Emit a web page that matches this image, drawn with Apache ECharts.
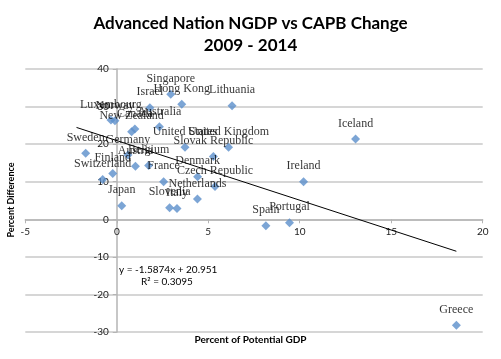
<!DOCTYPE html>
<html>
<head>
<meta charset="utf-8">
<script src="https://cdn.jsdelivr.net/npm/echarts@6/dist/echarts.min.js"></script>
<style>
html,body{margin:0;padding:0;background:#fff;}
#c{width:501px;height:359px;}
</style>
</head>
<body>
<div id="c"></div>
<script>
const countries = ['Singapore','Hong Kong','Israel','Lithuania','Luxembourg','Norway','Canada','New Zealand','Australia','United States','United Kingdom','Slovak Republic','Sweden','Germany','Austria','Belgium','Finland','Switzerland','France','Denmark','Czech Republic','Netherlands','Japan','Slovenia','Italy','Ireland','Iceland','Spain','Portugal','Greece'];
const potentialGdp = [2.95,3.55,1.81,6.30,-0.32,-0.10,0.99,0.81,2.33,3.73,6.11,5.28,-1.70,0.61,1.02,1.74,-0.22,-0.77,2.56,4.42,5.37,4.41,0.27,2.89,3.29,10.21,13.05,8.15,9.44,18.56];
const percentDiff = [33.3,30.6,29.7,30.2,26.4,26.2,24.0,23.3,24.6,19.2,19.2,16.7,17.6,17.1,14.1,14.3,12.2,10.6,10.0,11.3,8.7,5.4,3.6,3.1,2.9,10.0,21.4,-1.7,-0.9,-28.2];
const trendSlope = -1.5874;
const trendIntercept = 20.951;
const trendRange = [-2.2, 18.56];
const xTickRange = [-5, 20, 5];
const yTickRange = [-30, 40, 10];
const titleLines = ['Advanced Nation NGDP vs CAPB Change', '2009 - 2014'];
const xAxisName = 'Percent of Potential GDP';
const yAxisName = 'Percent Difference';
const equationText = ['y = -1.5874x + 20.951', 'R² = 0.3095'];

const points = countries.map((c, i) => ({ name: c, value: [potentialGdp[i], percentDiff[i]] }));
const trendData = trendRange.map(x => [x, trendSlope * x + trendIntercept]);

const W = 501, H = 359;
const G = { left: 25.3, right: 18.3, top: 69, bottom: 27 };
const sans = 'Lato';
const axisColor = '#b4b4b4';
const labelStyle = { fontFamily: sans, fontSize: 10, color: '#222' };

const chart = echarts.init(document.getElementById('c'), null, { renderer: 'canvas' });
chart.setOption({
  animation: false,
  backgroundColor: '#fff',
  title: {
    text: titleLines.join('\n'),
    left: 'center',
    top: 8,
    textStyle: { fontFamily: sans, fontWeight: 'bold', fontSize: 17, lineHeight: 22, color: '#000' }
  },
  grid: [Object.assign({ containLabel: false }, G)],
  xAxis: [{
    type: 'value', gridIndex: 0,
    min: xTickRange[0], max: xTickRange[1], interval: xTickRange[2],
    axisLine: { onZero: true, lineStyle: { color: axisColor, width: 1.5 } },
    axisTick: { show: false },
    axisLabel: { show: false },
    splitLine: { show: false }
  }],
  yAxis: [{
    type: 'value', gridIndex: 0,
    min: yTickRange[0], max: yTickRange[1], interval: yTickRange[2],
    axisLine: { show: true, onZero: true, lineStyle: { color: axisColor, width: 1.5 } },
    axisTick: { show: false },
    axisLabel: { show: false },
    splitLine: { show: true, lineStyle: { color: '#c8c8c8', width: 1.5 } }
  }],
  series: [
    {
      type: 'line',
      xAxisIndex: 0, yAxisIndex: 0,
      data: trendData,
      symbol: 'none',
      lineStyle: { color: '#000', width: 1 },
      z: 3,
      silent: true
    },
    {
      type: 'scatter',
      xAxisIndex: 0, yAxisIndex: 0,
      data: points,
      symbol: 'diamond',
      symbolSize: 9,
      itemStyle: { color: '#5b8fcb' },
      z: 4,
      label: {
        show: true,
        position: 'top',
        distance: 5,
        formatter: p => p.name,
        fontFamily: 'Liberation Serif',
        fontSize: 12,
        color: '#000'
      }
    }
  ],
  graphic: [
    { type: 'text', left: 119, top: 265, style: { text: equationText[0], font: '10px Lato', fill: '#000' } },
    { type: 'text', left: 141, top: 277, style: { text: equationText[1], font: '10px Lato', fill: '#000' } },
    { type: 'text', left: 'center', top: 335, style: { text: xAxisName, font: 'bold 10px Lato', fill: '#000' } },
    { type: 'text', x: 11, y: 200, rotation: Math.PI / 2, style: { text: yAxisName, font: 'bold 9px Lato', fill: '#000', align: 'center', verticalAlign: 'middle' } }
  ]
});

// Place tick labels next to the zero-crossing axes, like the original.
const zero = chart.convertToPixel({ gridIndex: 0 }, [0, 0]);
chart.setOption({
  grid: [
    Object.assign({ containLabel: false }, G),
    { left: G.left, right: G.right, top: G.top, bottom: H - zero[1], containLabel: false, show: false },
    { left: zero[0], right: G.right, top: G.top, bottom: G.bottom, containLabel: false, show: false }
  ],
  xAxis: [
    {},
    {
      type: 'value', gridIndex: 1,
      min: xTickRange[0], max: xTickRange[1], interval: xTickRange[2],
      axisLine: { show: false, onZero: false },
      axisTick: { show: true, length: 4, lineStyle: { color: axisColor } },
      axisLabel: Object.assign({ margin: 7 }, labelStyle),
      splitLine: { show: false }
    },
    {
      type: 'value', gridIndex: 2, show: false, min: 0, max: 1
    }
  ],
  yAxis: [
    {},
    { type: 'value', gridIndex: 1, show: false, min: 0, max: 1 },
    {
      type: 'value', gridIndex: 2,
      min: yTickRange[0], max: yTickRange[1], interval: yTickRange[2],
      axisLine: { show: false, onZero: false },
      axisTick: { show: true, length: 4, lineStyle: { color: axisColor } },
      axisLabel: Object.assign({ margin: 8 }, labelStyle),
      splitLine: { show: false }
    }
  ]
});
</script>
</body>
</html>
